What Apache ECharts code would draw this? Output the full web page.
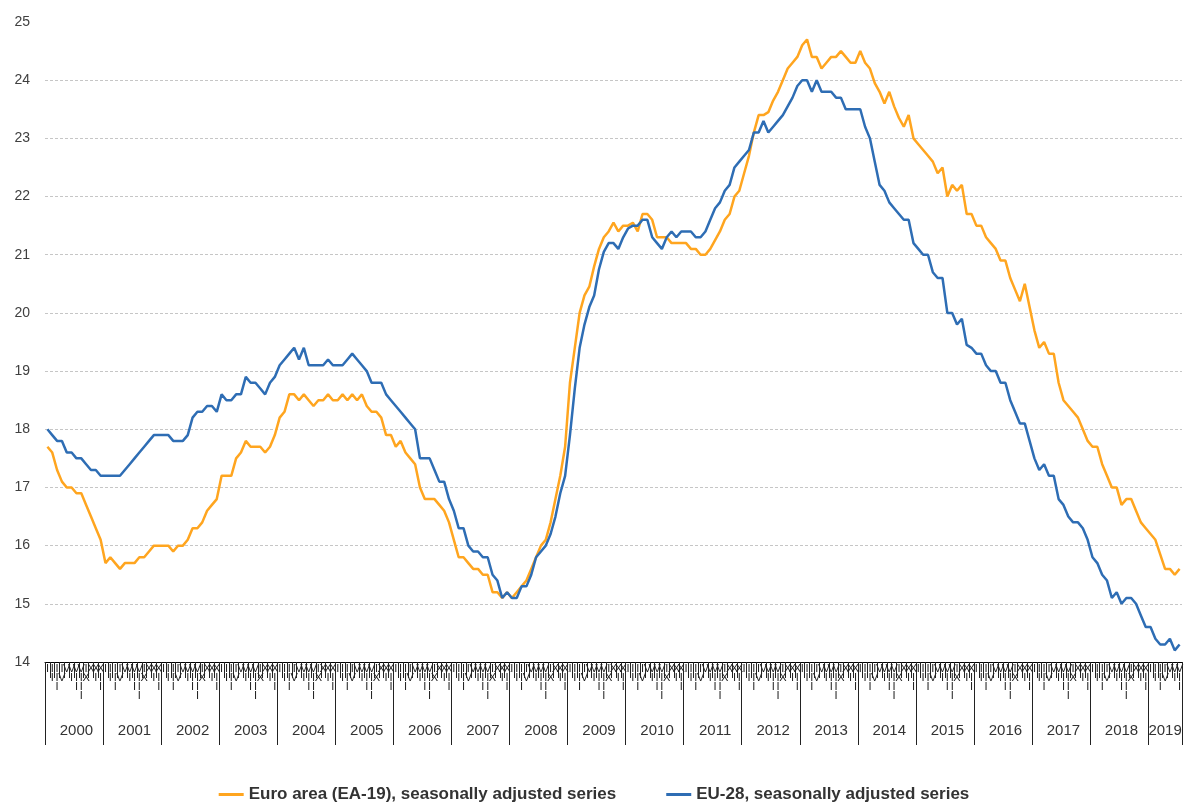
<!DOCTYPE html>
<html>
<head>
<meta charset="utf-8">
<script src="https://cdn.jsdelivr.net/npm/echarts@6/dist/echarts.min.js"></script>
<style>
html,body{margin:0;padding:0;background:#fff;}
#chart{width:1188px;height:803px;}
</style>
</head>
<body>
<div id="chart"></div>
<script>
// Tick labels
const years = ['2000','2001','2002','2003','2004','2005','2006','2007','2008','2009','2010','2011','2012','2013','2014','2015','2016','2017','2018','2019'];
const monthNumerals = ['I','II','III','IV','V','VI','VII','VIII','IX','X','XI','XII'];
const lastYearMonths = 7; // data through VII 2019
const yTicks = [14,15,16,17,18,19,20,21,22,23,24,25];

// Series values (monthly, Jan 2000 - Jul 2019)
const euroArea = [
  17.7,17.6,17.3,17.1,17.0,17.0,16.9,16.9,16.7,16.5,16.3,16.1,
  15.7,15.8,15.7,15.6,15.7,15.7,15.7,15.8,15.8,15.9,16.0,16.0,
  16.0,16.0,15.9,16.0,16.0,16.1,16.3,16.3,16.4,16.6,16.7,16.8,
  17.2,17.2,17.2,17.5,17.6,17.8,17.7,17.7,17.7,17.6,17.7,17.9,
  18.2,18.3,18.6,18.6,18.5,18.6,18.5,18.4,18.5,18.5,18.6,18.5,
  18.5,18.6,18.5,18.6,18.5,18.6,18.4,18.3,18.3,18.2,17.9,17.9,
  17.7,17.8,17.6,17.5,17.4,17.0,16.8,16.8,16.8,16.7,16.6,16.4,
  16.1,15.8,15.8,15.7,15.6,15.6,15.5,15.5,15.2,15.2,15.1,15.2,
  15.1,15.2,15.3,15.4,15.6,15.8,16.0,16.1,16.4,16.8,17.2,17.7,
  18.8,19.4,20.0,20.3,20.45,20.8,21.1,21.3,21.4,21.55,21.4,21.5,
  21.5,21.55,21.4,21.7,21.7,21.6,21.3,21.3,21.3,21.2,21.2,21.2,
  21.2,21.1,21.1,21.0,21.0,21.1,21.25,21.4,21.6,21.7,22.0,22.1,
  22.4,22.7,23.1,23.4,23.4,23.45,23.65,23.8,24.0,24.2,24.3,24.4,
  24.6,24.7,24.4,24.4,24.2,24.3,24.4,24.4,24.5,24.4,24.3,24.3,
  24.5,24.3,24.2,23.95,23.8,23.6,23.8,23.55,23.35,23.2,23.4,23.0,
  22.9,22.8,22.7,22.6,22.4,22.5,22.0,22.2,22.1,22.2,21.7,21.7,
  21.5,21.5,21.3,21.2,21.1,20.9,20.9,20.6,20.4,20.2,20.5,20.1,
  19.7,19.4,19.5,19.3,19.3,18.8,18.5,18.4,18.3,18.2,18.0,17.8,
  17.7,17.7,17.4,17.2,17.0,17.0,16.7,16.8,16.8,16.6,16.4,16.3,
  16.2,16.1,15.85,15.6,15.6,15.5,15.6
];
const eu28 = [
  18.0,17.9,17.8,17.8,17.6,17.6,17.5,17.5,17.4,17.3,17.3,17.2,
  17.2,17.2,17.2,17.2,17.3,17.4,17.5,17.6,17.7,17.8,17.9,17.9,
  17.9,17.9,17.8,17.8,17.8,17.9,18.2,18.3,18.3,18.4,18.4,18.3,
  18.6,18.5,18.5,18.6,18.6,18.9,18.8,18.8,18.7,18.6,18.8,18.9,
  19.1,19.2,19.3,19.4,19.2,19.4,19.1,19.1,19.1,19.1,19.2,19.1,
  19.1,19.1,19.2,19.3,19.2,19.1,19.0,18.8,18.8,18.8,18.6,18.5,
  18.4,18.3,18.2,18.1,18.0,17.5,17.5,17.5,17.3,17.1,17.1,16.8,
  16.6,16.3,16.3,16.0,15.9,15.9,15.8,15.8,15.5,15.4,15.1,15.2,
  15.1,15.1,15.3,15.3,15.5,15.8,15.9,16.0,16.2,16.5,16.9,17.2,
  17.9,18.7,19.4,19.8,20.1,20.3,20.75,21.05,21.2,21.2,21.1,21.3,
  21.45,21.5,21.5,21.6,21.6,21.3,21.2,21.1,21.3,21.4,21.3,21.4,
  21.4,21.4,21.3,21.3,21.4,21.6,21.8,21.9,22.1,22.2,22.5,22.6,
  22.7,22.8,23.1,23.1,23.3,23.1,23.2,23.3,23.4,23.55,23.7,23.9,
  24.0,24.0,23.8,24.0,23.8,23.8,23.8,23.7,23.7,23.5,23.5,23.5,
  23.5,23.2,23.0,22.6,22.2,22.1,21.9,21.8,21.7,21.6,21.6,21.2,
  21.1,21.0,21.0,20.7,20.6,20.6,20.0,20.0,19.8,19.9,19.45,19.4,
  19.3,19.3,19.1,19.0,19.0,18.8,18.8,18.5,18.3,18.1,18.1,17.8,
  17.5,17.3,17.4,17.2,17.2,16.8,16.7,16.5,16.4,16.4,16.3,16.1,
  15.8,15.7,15.5,15.4,15.1,15.2,15.0,15.1,15.1,15.0,14.8,14.6,
  14.6,14.4,14.3,14.3,14.4,14.2,14.3
];
const seriesNames = ['Euro area (EA-19), seasonally adjusted series', 'EU-28, seasonally adjusted series'];

// categories built from tick labels
const categories = [];
years.forEach((y, yi) => {
  const n = (yi === years.length - 1) ? lastYearMonths : 12;
  for (let m = 0; m < n; m++) categories.push(y + ' ' + monthNumerals[m]);
});
const yearLabelIndex = {};
years.forEach((y, yi) => {
  const n = (yi === years.length - 1) ? lastYearMonths : 12;
  yearLabelIndex[yi * 12 + Math.floor(n / 2)] = true;
});

const chart = echarts.init(document.getElementById('chart'), null, {renderer: 'canvas'});
const splitColors = yTicks.map((t, i) => i === yTicks.length - 1 ? 'rgba(0,0,0,0)' : '#c6c6c6');
const font = "'Liberation Sans', Arial, sans-serif";

chart.setOption({
  animation: false,
  backgroundColor: '#fff',
  grid: {left: 45, right: 6, top: 22, bottom: 141, containLabel: false},
  legend: {
    top: 781, left: 'center', itemGap: 50, itemWidth: 25, itemHeight: 3, icon: 'rect',
    textStyle: {fontFamily: "'Liberation Sans Narrow', 'Liberation Sans', Arial, sans-serif", fontWeight: 'bold', fontSize: 17, color: '#333'},
    data: seriesNames
  },
  xAxis: [
    {
      type: 'category', data: categories, boundaryGap: true,
      axisLine: {show: true, lineStyle: {color: '#000', width: 1}},
      axisTick: {show: true, interval: 0, length: 16, lineStyle: {color: '#222', width: 1}},
      axisLabel: {
        interval: 0, margin: 2, fontSize: 11, lineHeight: 9, color: '#222', fontFamily: font,
        formatter: v => v.split(' ')[1].split('').join('\n'),
        verticalAlign: 'top', hideOverlap: false
      },
      splitLine: {show: false}
    },
    {
      type: 'category', data: categories, boundaryGap: true, position: 'bottom',
      axisLine: {show: false},
      axisTick: {show: true, interval: (i) => i % 12 === 0, length: 83, lineStyle: {color: '#222', width: 1}},
      axisLabel: {
        interval: (i) => !!yearLabelIndex[i], margin: 61, fontSize: 15, color: '#333', fontFamily: font,
        formatter: v => v.split(' ')[0]
      },
      splitLine: {show: false}
    }
  ],
  yAxis: {
    type: 'value', min: 14, max: 25, interval: 1,
    axisLine: {show: false}, axisTick: {show: false},
    axisLabel: {margin: 15, fontSize: 14, color: '#404040', fontFamily: font},
    splitLine: {show: true, lineStyle: {type: [3, 2], color: splitColors, width: 1}}
  },
  series: [
    {name: seriesNames[0], type: 'line', data: euroArea, xAxisIndex: 0, showSymbol: false, symbol: 'none',
     lineStyle: {color: '#FFA51F', width: 2.5}, itemStyle: {color: '#FFA51F'}},
    {name: seriesNames[1], type: 'line', data: eu28, xAxisIndex: 0, showSymbol: false, symbol: 'none',
     lineStyle: {color: '#2E6DB4', width: 2.5}, itemStyle: {color: '#2E6DB4'}}
  ]
});
</script>
</body>
</html>
